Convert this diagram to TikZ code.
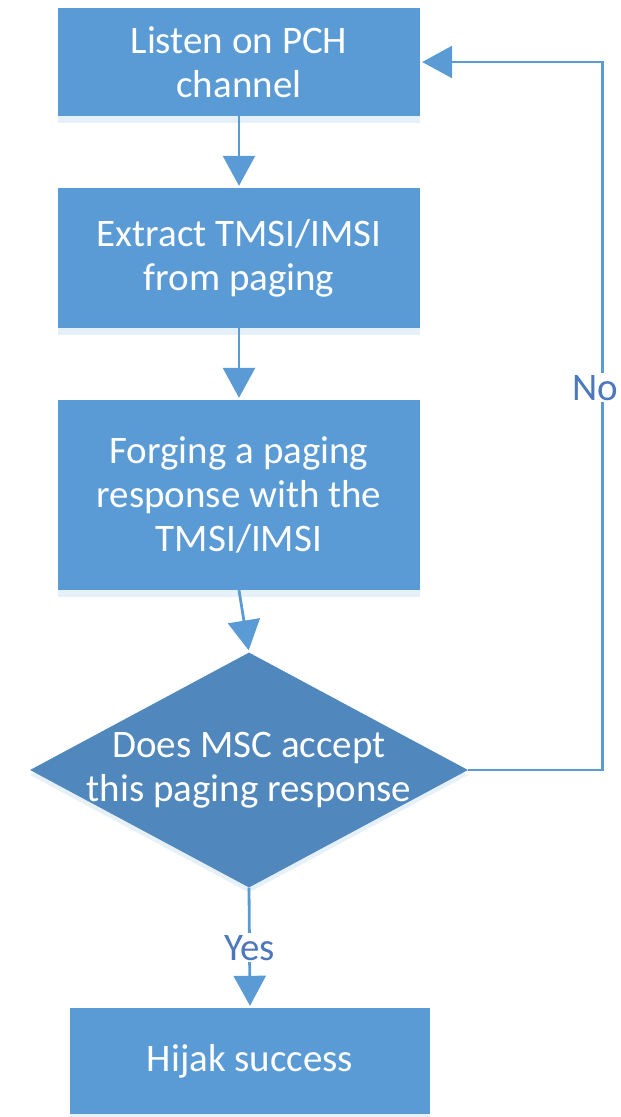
\documentclass[tikz,border=0pt]{standalone}
\usepackage{fontspec}
\setmainfont{Carlito}
\usetikzlibrary{positioning, arrows.meta, shapes.geometric, shadows}
\definecolor{boxblue}{RGB}{91,155,213}
\definecolor{decblue}{RGB}{80,135,188}
\definecolor{lblblue}{RGB}{78,120,190}
\tikzset{
  hijack/.style={
	node distance=196pt, % center to center distance of two boxes
	every node/.style={font=\fontsize{39}{44}\selectfont},
	flow/.style={draw=boxblue, line width=2.8pt, -{Triangle[length=30pt,width=32pt]}, shorten >=2pt}, % connectors
  },
  stepbox/.style={fill=boxblue, text=white, align=center, minimum width=362pt, inner sep=0pt,
	drop shadow={shadow xshift=0pt, shadow yshift=-7pt, fill=boxblue!25, opacity=0.6}},
  decision/.style={diamond, fill=decblue, minimum width=438pt, minimum height=235pt, inner sep=0pt,
	drop shadow={shadow xshift=0pt, shadow yshift=-5pt, fill=boxblue!25, opacity=0.6}},
  lbl/.style={fill=white, text=lblblue, inner sep=2pt},
}
\begin{document}
\begin{tikzpicture}[hijack]
	  \useasboundingbox (0pt,0pt) rectangle (621pt,-1117pt);
	  \node[stepbox, minimum height=108pt] (listen) at (239pt,-62pt) {Listen on PCH\\channel};
	  \node[stepbox, minimum height=140pt, below of=listen, yshift=0pt, xshift=0pt] (extract) {Extract TMSI/IMSI\\from paging};
	  \node[stepbox, minimum height=190pt, below of=extract, yshift=-41pt, xshift=0pt] (forge) {Forging a paging\\response with the\\TMSI/IMSI};
	  \node[decision, below of=forge, yshift=-79pt, xshift=10pt] (accept) {};
	  \node[text=white, align=center] (accepttext) at (accept) {Does MSC accept\\this paging response};
	  \node[stepbox, minimum width=360pt, minimum height=106pt, below of=accept, yshift=-95pt, xshift=1pt] (success) {Hijak success};
	  \coordinate[right=134pt of accept.east] (noturn);
	  \draw[flow] (listen) -- (extract);
	  \draw[flow] (extract) -- (forge);
	  \draw[flow] (forge.south) -- (accept.north);
	  \draw[flow] (accept.south) -- node[lbl]{Yes} (success.north);
	  \draw[flow] (accept.east) -- (noturn) |- node[lbl, pos=0.27, xshift=-7pt]{No} (listen.east);
	  \end{tikzpicture}
\end{document}
